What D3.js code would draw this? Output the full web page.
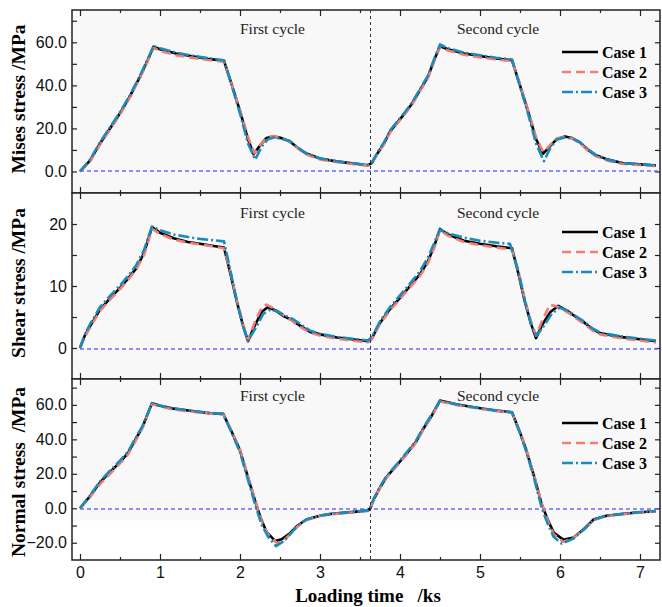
<!DOCTYPE html>
<html>
<head>
<meta charset="utf-8">
<script src="https://cdn.jsdelivr.net/npm/d3@7"></script>
<style>
  body { margin: 0; background: #fff; }
  svg text { white-space: pre; }
</style>
</head>
<body>
<div id="chart"></div>
<script>
// --- data: [time (ks), stress (MPa)] ---
const mises1 = [[0,0],[0.125,5],[0.25,13],[0.375,20],[0.5,27],[0.625,35],[0.75,44],[0.85,52],[0.92,58],[1.0,56.8],[1.2,54.8],[1.4,53.5],[1.6,52.3],[1.8,51.4],[1.9,40],[2.0,28],[2.1,15],[2.17,8],[2.25,12],[2.33,15.5],[2.42,16.2],[2.52,15.5],[2.62,14],[2.72,11],[2.82,8.5],[3.0,6],[3.2,4.7],[3.42,3.7],[3.6,2.9],[3.65,4],[3.72,8.5],[3.8,13],[3.875,18.5],[3.95,22],[4.06,27],[4.15,31.5],[4.25,37.8],[4.35,44],[4.43,52],[4.5,58.2],[4.6,56.8],[4.8,54.8],[5.0,53.6],[5.2,52.5],[5.4,51.7],[5.5,40],[5.6,28],[5.7,15],[5.79,8.3],[5.87,11.5],[5.96,15],[6.06,16.2],[6.15,15.5],[6.25,13.5],[6.35,10],[6.45,7.5],[6.6,5.5],[6.79,3.8],[7.0,3.3],[7.2,2.8]];
const mises2 = [[0,0],[0.125,4.5],[0.25,12.5],[0.375,19.5],[0.5,26.5],[0.625,34.5],[0.75,43.5],[0.85,51.5],[0.92,57.5],[1.0,56],[1.2,54],[1.4,52.8],[1.6,51.8],[1.8,51],[1.9,40],[2.0,28.5],[2.1,16],[2.18,8.5],[2.26,12.5],[2.35,16],[2.42,16.5],[2.52,15.7],[2.62,13.8],[2.72,10.8],[2.82,8],[3.0,5.6],[3.2,4.4],[3.42,3.4],[3.6,2.7],[3.65,3.8],[3.72,8.2],[3.8,12.6],[3.875,18],[3.95,21.6],[4.06,26.6],[4.15,31],[4.25,37.3],[4.35,43.5],[4.43,51.5],[4.5,57.8],[4.6,56.2],[4.8,54.2],[5.0,53],[5.2,52],[5.4,51.3],[5.5,40.5],[5.6,28.5],[5.7,16],[5.79,9],[5.87,12],[5.96,15.4],[6.06,16],[6.15,15.3],[6.25,13.2],[6.35,9.6],[6.45,7],[6.6,5],[6.79,3.5],[7.0,3],[7.2,2.5]];
const mises3 = [[0,0],[0.125,5.5],[0.25,13.5],[0.375,20.5],[0.5,27.5],[0.625,35.5],[0.75,44.5],[0.85,52.5],[0.92,58.2],[1.0,57.2],[1.2,55.2],[1.4,53.8],[1.6,52.6],[1.8,51.6],[1.9,39.5],[2.0,27],[2.1,13],[2.19,5.5],[2.27,11.5],[2.35,15],[2.42,15.8],[2.52,15.2],[2.62,14.2],[2.72,11.2],[2.82,8.6],[3.0,6],[3.2,4.8],[3.42,3.8],[3.6,3],[3.65,4.2],[3.72,9],[3.8,13.5],[3.875,19],[3.95,22.5],[4.06,27.5],[4.15,32],[4.25,38.3],[4.35,44.5],[4.43,52.5],[4.5,59],[4.6,57.2],[4.8,55.2],[5.0,54],[5.2,52.8],[5.4,52],[5.5,39.5],[5.6,27],[5.7,13],[5.8,4.8],[5.88,11],[5.96,14.8],[6.06,15.8],[6.15,15.3],[6.25,13.6],[6.35,10.2],[6.45,7.6],[6.6,5.4],[6.79,3.8],[7.0,3.3],[7.2,2.8]];

const shear1 = [[0,0],[0.06,2],[0.125,3.5],[0.25,6.2],[0.375,8],[0.5,9.7],[0.6,11.2],[0.7,12.8],[0.8,15.3],[0.9,19.5],[1.0,18.6],[1.17,17.7],[1.35,17.1],[1.5,16.8],[1.65,16.5],[1.8,16.2],[1.88,12],[1.96,7.5],[2.04,3.5],[2.1,1.1],[2.18,3.5],[2.27,5.8],[2.35,6.6],[2.45,6],[2.55,5.1],[2.65,4.5],[2.75,3.6],[2.875,2.6],[3.0,2.2],[3.21,1.7],[3.4,1.4],[3.6,1.1],[3.65,1.6],[3.75,4.05],[3.87,6.2],[4.0,8.1],[4.12,9.9],[4.25,11.9],[4.35,14],[4.43,16.5],[4.5,19.2],[4.6,18.3],[4.8,17.3],[5.0,16.8],[5.2,16.4],[5.4,16.1],[5.48,12],[5.56,7.5],[5.64,3.8],[5.7,1.6],[5.78,3.8],[5.88,5.8],[5.98,6.8],[6.1,5.9],[6.2,5],[6.31,4.05],[6.4,3.1],[6.5,2.4],[6.62,2.1],[6.75,1.8],[7.0,1.4],[7.2,1.1]];
const shear2 = [[0,0],[0.06,1.8],[0.125,3.3],[0.25,6],[0.375,7.8],[0.5,9.5],[0.6,11],[0.7,12.6],[0.8,15],[0.9,19.2],[1.0,18.4],[1.17,17.5],[1.35,17],[1.5,16.7],[1.65,16.4],[1.8,16.1],[1.88,12.3],[1.96,7.8],[2.04,3.8],[2.1,1.3],[2.18,4],[2.27,6.5],[2.33,7],[2.45,6.2],[2.55,5.2],[2.65,4.4],[2.75,3.4],[2.875,2.5],[3.0,2],[3.21,1.5],[3.4,1.2],[3.6,0.9],[3.65,1.5],[3.75,3.9],[3.87,6],[4.0,7.9],[4.12,9.7],[4.25,11.6],[4.35,13.7],[4.43,16.2],[4.5,19],[4.6,18.1],[4.8,17.1],[5.0,16.6],[5.2,16.2],[5.4,15.9],[5.48,12.3],[5.56,7.8],[5.64,4.2],[5.7,2],[5.78,4.5],[5.875,7],[5.98,6.6],[6.1,5.7],[6.2,4.8],[6.31,3.8],[6.4,2.9],[6.5,2.2],[6.62,1.9],[6.75,1.6],[7.0,1.2],[7.2,0.9]];
const shear3 = [[0,0],[0.06,2.2],[0.125,3.8],[0.25,6.6],[0.375,8.4],[0.5,10.1],[0.6,11.6],[0.7,13.3],[0.8,15.8],[0.9,19.6],[1.0,19],[1.17,18.3],[1.35,17.9],[1.5,17.6],[1.65,17.4],[1.8,17.2],[1.88,12.5],[1.96,7.6],[2.04,3.4],[2.1,1.2],[2.2,3.3],[2.29,5.5],[2.38,6.2],[2.47,5.9],[2.57,5.2],[2.67,4.6],[2.77,3.7],[2.875,2.8],[3.0,2.3],[3.21,1.8],[3.4,1.5],[3.6,1.2],[3.65,1.8],[3.75,4.3],[3.87,6.5],[4.0,8.5],[4.12,10.3],[4.25,12.4],[4.35,14.6],[4.43,17],[4.5,19.1],[4.6,18.5],[4.8,17.8],[5.0,17.3],[5.2,17],[5.375,16.8],[5.48,12.4],[5.56,7.6],[5.64,3.7],[5.71,2],[5.8,3.6],[5.9,5.6],[6.0,6.5],[6.1,6],[6.2,5.1],[6.31,4.2],[6.4,3.2],[6.5,2.5],[6.62,2.2],[6.75,1.9],[7.0,1.5],[7.2,1.2]];

const normal1 = [[0,0],[0.125,7],[0.25,15],[0.375,21],[0.5,26.8],[0.6,32],[0.67,38],[0.78,47],[0.9,61],[1.0,59.5],[1.17,57.8],[1.35,56.7],[1.5,55.9],[1.65,55],[1.79,54.8],[1.9,44],[2.0,33.6],[2.1,18],[2.21,1],[2.27,-7],[2.33,-13.5],[2.44,-19],[2.52,-18],[2.625,-14.5],[2.72,-10],[2.83,-6.5],[3.0,-4.3],[3.15,-3.2],[3.33,-2.5],[3.6,-1.3],[3.63,0],[3.67,5],[3.75,12],[3.83,18],[3.95,24.5],[4.08,31.5],[4.2,38.5],[4.29,46],[4.4,54],[4.5,62.5],[4.7,60.3],[4.92,58.6],[5.15,57],[5.4,55.7],[5.5,44],[5.58,33.5],[5.68,18],[5.77,2.5],[5.85,-7],[5.92,-14],[6.04,-18.2],[6.17,-16.9],[6.3,-12],[6.42,-6.5],[6.58,-4.3],[6.8,-3.2],[7.0,-2.3],[7.2,-1.7]];
const normal2 = [[0,0],[0.125,6.5],[0.25,14],[0.375,20],[0.5,26],[0.6,31.3],[0.67,37],[0.78,46.5],[0.9,60.5],[1.0,59],[1.17,57.3],[1.35,56.3],[1.5,55.5],[1.65,54.8],[1.79,54.5],[1.9,44.5],[2.0,34],[2.1,18.5],[2.21,1.5],[2.27,-7.5],[2.35,-15],[2.47,-20.5],[2.55,-18.5],[2.65,-14],[2.72,-10.5],[2.83,-6.8],[3.0,-4.5],[3.15,-3.4],[3.33,-2.7],[3.6,-1.5],[3.63,-0.2],[3.67,4.8],[3.75,11.6],[3.83,17.6],[3.95,24],[4.08,31],[4.2,38],[4.29,45.5],[4.4,53.5],[4.5,62],[4.7,60],[4.92,58.3],[5.15,56.7],[5.4,55.4],[5.5,44.5],[5.58,34],[5.68,18.5],[5.77,3],[5.85,-7.5],[5.92,-15],[6.04,-19.5],[6.17,-17],[6.3,-12.5],[6.42,-6.8],[6.58,-4.5],[6.8,-3.4],[7.0,-2.5],[7.2,-1.9]];
const normal3 = [[0,0],[0.125,7.4],[0.25,15.6],[0.375,21.8],[0.5,27.6],[0.6,32.8],[0.67,38.8],[0.78,47.6],[0.9,61],[1.0,59.6],[1.17,58],[1.35,56.8],[1.5,56],[1.65,55.2],[1.79,54.7],[1.9,43.5],[2.0,32.5],[2.1,16.5],[2.21,-1],[2.27,-9.5],[2.35,-16.5],[2.45,-22],[2.55,-19],[2.65,-13.8],[2.72,-10],[2.83,-6.5],[3.0,-4.2],[3.15,-3.1],[3.33,-2.4],[3.6,-1.2],[3.63,0.2],[3.67,5.5],[3.75,12.6],[3.83,18.6],[3.95,25],[4.08,32.2],[4.2,39.2],[4.29,46.6],[4.4,54.6],[4.5,62.5],[4.7,60.4],[4.92,58.6],[5.15,57.1],[5.4,55.6],[5.5,43.5],[5.58,32.8],[5.68,16.8],[5.77,0.5],[5.85,-9.5],[5.92,-16.5],[6.02,-20.5],[6.17,-17.5],[6.3,-12.2],[6.42,-6.6],[6.58,-4.3],[6.8,-3.1],[7.0,-2.2],[7.2,-1.6]];

const caseNames = ["Case 1", "Case 2", "Case 3"];
const cycleNames = ["First cycle", "Second cycle"];
const cycleSplit = 3.63;
const timeTicks = [0, 1, 2, 3, 4, 5, 6, 7];
const timeMinorTicks = [0.5, 1.5, 2.5, 3.5, 4.5, 5.5, 6.5];
const misesTicks = [0, 10, 20, 30, 40, 50, 60, 70];
const misesLabels = [0, 20, 40, 60];
const shearTicks = [0, 5, 10, 15, 20];
const shearLabels = [0, 10, 20];
const normalTicks = [-20, -10, 0, 10, 20, 30, 40, 50, 60, 70];
const normalLabels = [-20, 0, 20, 40, 60];

const W = 662, H = 607;
const svg = d3.select("#chart").append("svg")
    .attr("width", W).attr("height", H);

const x = d3.scaleLinear().domain([-0.1, 7.25]).range([72, 660]);

const styles = [
    { color: "#000000", dash: null },
    { color: "#f47c74", dash: "9,5" },
    { color: "#1a8bbb", dash: "11,3,2,3" }
];

const panels = [
    { title: "Mises stress /MPa", series: [mises1, mises2, mises3], domain: [-10, 75], top: 10, bottom: 193,
      ticks: misesTicks, labels: misesLabels, fmt: d3.format(".1f"), bgFloor: -10, legendY: 42, cycleY: 24, titleY: 99 },
    { title: "Shear stress /MPa", series: [shear1, shear2, shear3], domain: [-5, 25], top: 193, bottom: 379,
      ticks: shearTicks, labels: shearLabels, fmt: d3.format("d"), bgFloor: -5, legendY: 39, cycleY: 25, titleY: 283 },
    { title: "Normal stress  /MPa", series: [normal1, normal2, normal3], domain: [-30, 75], top: 379, bottom: 560,
      ticks: normalTicks, labels: normalLabels, fmt: d3.format(".1f"), bgFloor: -7, legendY: 44, cycleY: 22, titleY: 472 }
];

panels.forEach((p, i) => {
    const y = d3.scaleLinear().domain(p.domain).range([p.bottom, p.top]);
    const g = svg.append("g");

    // light background
    g.append("rect")
        .attr("x", x.range()[0]).attr("y", p.top)
        .attr("width", x.range()[1] - x.range()[0])
        .attr("height", y(p.bgFloor) - p.top)
        .attr("fill", "#f8f8f8");

    // left / right axes
    const yLeft = d3.axisLeft(y).tickValues(p.ticks).tickSize(-5).tickPadding(5)
        .tickFormat(d => p.labels.includes(d) ? p.fmt(d) : "");
    const yRight = d3.axisRight(y).tickValues(p.ticks).tickSize(-5).tickFormat("");
    g.append("g").attr("transform", `translate(${x.range()[0]},0)`).call(yLeft);
    g.append("g").attr("transform", `translate(${x.range()[1]},0)`).call(yRight);

    // top / bottom time ticks
    const xTop = d3.axisTop(x).tickValues(timeTicks).tickSize(-6).tickFormat("");
    const xTopMinor = d3.axisTop(x).tickValues(timeMinorTicks).tickSize(-3).tickFormat("");
    const xBot = d3.axisBottom(x).tickValues(timeTicks).tickSize(-6).tickPadding(7)
        .tickFormat(i === 2 ? d3.format("d") : "");
    const xBotMinor = d3.axisBottom(x).tickValues(timeMinorTicks).tickSize(-3).tickFormat("");
    g.append("g").attr("transform", `translate(0,${p.top})`).call(xTop);
    g.append("g").attr("transform", `translate(0,${p.top})`).call(xTopMinor);
    g.append("g").attr("transform", `translate(0,${p.bottom})`).call(xBot);
    g.append("g").attr("transform", `translate(0,${p.bottom})`).call(xBotMinor);

    g.selectAll(".domain").remove();
    g.selectAll(".tick line").attr("stroke", "#222").attr("stroke-width", 1.2);
    g.selectAll(".tick text")
        .attr("font-family", "Liberation Sans, Arial, sans-serif")
        .attr("font-size", 16).attr("fill", "#111");

    // frame
    g.append("rect")
        .attr("x", x.range()[0]).attr("y", p.top)
        .attr("width", x.range()[1] - x.range()[0])
        .attr("height", p.bottom - p.top)
        .attr("fill", "none").attr("stroke", "#222").attr("stroke-width", 1.5);

    // zero line, kept on an even pixel-row pair so its colour survives
    const y0 = Math.floor(y(0) / 2) * 2 + 1;
    g.append("line")
        .attr("x1", x(0)).attr("x2", x.range()[1])
        .attr("y1", y0).attr("y2", y0)
        .style("stroke", "#6a6aff").style("stroke-width", 1.6)
        .style("stroke-dasharray", "4,3");

    // curves
    const line = d3.line().x(d => x(d[0])).y(d => y(d[1]));
    p.series.forEach((s, k) => {
        g.append("path")
            .datum(s)
            .attr("fill", "none")
            .attr("stroke", styles[k].color)
            .attr("stroke-width", 2.6)
            .attr("stroke-linejoin", "round")
            .attr("stroke-dasharray", styles[k].dash)
            .attr("d", line);
    });

    // cycle labels
    g.selectAll(".cyc")
        .data(cycleNames)
        .enter().append("text")
        .attr("x", (d, j) => j === 0 ? 240 : 457)
        .attr("y", p.top + p.cycleY)
        .attr("font-family", "Liberation Serif, Times New Roman, serif")
        .attr("font-size", 15.5)
        .attr("fill", "#222")
        .text(d => d);

    // legend
    caseNames.forEach((name, k) => {
        const ly = p.top + p.legendY + k * 20;
        g.append("line")
            .attr("x1", 562).attr("x2", 598).attr("y1", ly).attr("y2", ly)
            .attr("stroke", styles[k].color).attr("stroke-width", 2.6)
            .attr("stroke-dasharray", styles[k].dash);
        g.append("text")
            .attr("x", 602).attr("y", ly + 5.5)
            .attr("font-family", "Liberation Serif, Times New Roman, serif")
            .attr("font-weight", "bold").attr("font-size", 16)
            .attr("fill", "#000")
            .text(name);
    });

    // y title
    svg.append("text")
        .attr("transform", `translate(25,${p.titleY}) rotate(-90)`)
        .attr("text-anchor", "middle")
        .attr("font-family", "Liberation Serif, Times New Roman, serif")
        .attr("font-weight", "bold").attr("font-size", 19.5)
        .text(p.title);
});

// cycle split line
svg.append("line")
    .attr("x1", Math.round(x(cycleSplit)) + 0.5).attr("x2", Math.round(x(cycleSplit)) + 0.5)
    .attr("y1", panels[0].top).attr("y2", panels[2].bottom)
    .attr("stroke", "#333").attr("stroke-width", 1)
    .attr("stroke-dasharray", "3,3");

// x title
svg.append("text")
    .attr("x", 368).attr("y", 602)
    .attr("text-anchor", "middle")
    .attr("font-family", "Liberation Serif, Times New Roman, serif")
    .attr("font-weight", "bold").attr("font-size", 19)
    .text("Loading time   /ks");
</script>
</body>
</html>
